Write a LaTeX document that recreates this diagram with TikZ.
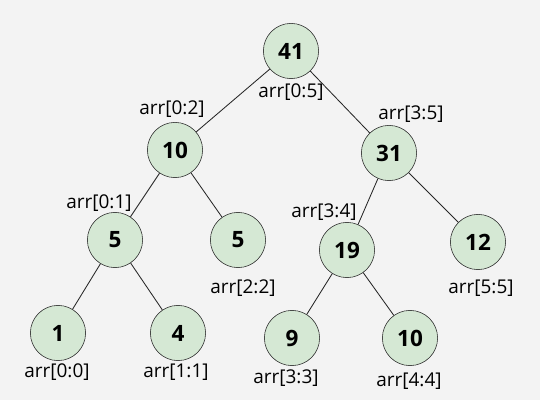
\documentclass[tikz,border=0pt]{standalone}
\usepackage{fontspec}
\setmainfont{Open Sans}
\usepackage{xcolor}
\usetikzlibrary{positioning}
\definecolor{bgrey}{HTML}{F3F3F3}
\definecolor{nodegreen}{HTML}{D5E8D4}

\begin{document}
\begin{tikzpicture}[
    x=0.025cm, y=-0.025cm,
    seg/.style={circle, draw=black!85, fill=nodegreen, minimum size=1.38cm, inner sep=0pt, font=\fontsize{16}{19}\selectfont\bfseries},
    rng/.style={font=\fontsize{13.5}{16}\selectfont, inner sep=1pt},
    edge/.style={draw=black!85, line width=0.6pt},
]
\fill[bgrey] (0,0) rectangle (540,400);
\useasboundingbox (0,0) rectangle (540,400);

% segment tree nodes
\node[seg] (r)   at (291,51)  {41};
\node[seg] (l)   at (175,150) {10};
\node[seg] (rt)  at (389,153) {31};
\node[seg] (ll)  at (115,240) {5};
\node[seg] (lr)  at (238,240) {5};
\node[seg] (rl)  at (347,250) {19};
\node[seg] (rr)  at (478,242) {12};
\node[seg] (lll) at (58,333)  {1};
\node[seg] (llr) at (178,333) {4};
\node[seg] (rll) at (292,338) {9};
\node[seg] (rlr) at (410,338) {10};

% range labels
\node[rng] (tr)   at (291,92)  {arr[0:5]};
\node[rng] (tl)   at (172,109) {arr[0:2]};
\node[rng] (trt)  at (411,114) {arr[3:5]};
\node[rng] (tll)  at (99,203)  {arr[0:1]};
\node[rng] (tlr)  at (243,288) {arr[2:2]};
\node[rng] (trl)  at (324,212) {arr[3:4]};
\node[rng] (trr)  at (481,288) {arr[5:5]};
\node[rng] (tlll) at (57,372)  {arr[0:0]};
\node[rng] (tllr) at (176,372) {arr[1:1]};
\node[rng] (trll) at (286,378) {arr[3:3]};
\node[rng] (trlr) at (409,381) {arr[4:4]};

\draw[edge] (r) -- (l);
\draw[edge] (r) -- (rt);
\draw[edge] (l) -- (ll);
\draw[edge] (l) -- (lr);
\draw[edge] (rt) -- (rl);
\draw[edge] (rt) -- (rr);
\draw[edge] (ll) -- (lll);
\draw[edge] (ll) -- (llr);
\draw[edge] (rl) -- (rll);
\draw[edge] (rl) -- (rlr);
\end{tikzpicture}
\end{document}
